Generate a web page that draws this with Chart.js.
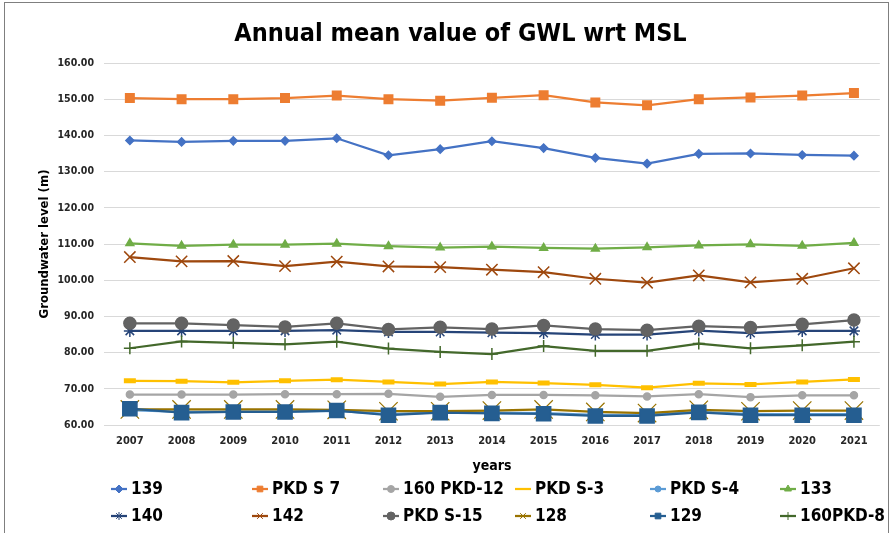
<!DOCTYPE html>
<html>
<head>
<meta charset="utf-8">
<script src="https://cdn.jsdelivr.net/npm/chart.js@4.4.1/dist/chart.umd.min.js"></script>
<style>
  body { margin: 0; background: #fff; }
  #wrap { width: 894px; height: 533px; position: relative; }
</style>
</head>
<body>
<div id="wrap"><canvas id="gwl"></canvas></div>
<script>
// values (m above MSL)
const years = ['2007','2008','2009','2010','2011','2012','2013','2014','2015','2016','2017','2018','2019','2020','2021'];
const yTicks = [60, 70, 80, 90, 100, 110, 120, 130, 140, 150, 160];

const w139     = [138.6,138.2,138.5,138.5,139.2,134.5,136.2,138.4,136.5,133.8,132.2,134.9,135.0,134.6,134.4];
const wPkdS7   = [150.3,150.0,150.0,150.3,151.0,150.0,149.6,150.4,151.1,149.1,148.3,150.0,150.5,151.0,151.7];
const w160Pkd12 = [68.4,68.4,68.4,68.5,68.5,68.6,67.8,68.3,68.3,68.2,67.9,68.5,67.7,68.2,68.2];
const wPkdS3   = [72.2,72.1,71.8,72.2,72.5,71.9,71.3,71.9,71.6,71.1,70.3,71.5,71.2,71.9,72.6];
const wPkdS4   = [64.1,63.6,63.7,63.7,63.9,63.0,63.5,63.4,63.3,62.8,62.9,63.6,63.0,63.0,63.0];
const w133     = [110.2,109.5,109.8,109.8,110.1,109.4,109.0,109.3,108.9,108.7,109.1,109.6,109.9,109.5,110.3];
const w140     = [86.0,86.0,86.0,86.0,86.2,85.7,85.7,85.5,85.4,85.0,85.0,86.1,85.4,86.0,86.0];
const w142     = [106.4,105.2,105.3,103.9,105.1,103.8,103.6,102.9,102.2,100.4,99.3,101.3,99.4,100.4,103.3];
const wPkdS15  = [88.1,88.1,87.6,87.1,88.1,86.4,87.0,86.5,87.5,86.5,86.2,87.3,86.9,87.8,89.0];
const w128     = [64.3,64.3,64.3,64.3,64.2,63.8,63.8,64.0,64.3,63.6,63.3,64.2,63.8,64.0,64.0];
const w129     = [64.5,63.4,63.6,63.6,64.0,62.7,63.4,63.2,63.1,62.5,62.5,63.5,62.7,62.7,62.7];
const w160Pkd8 = [81.2,83.1,82.7,82.3,83.0,81.1,80.2,79.6,81.8,80.5,80.5,82.5,81.2,82.0,83.0];

const FONT = '"DejaVu Sans Condensed", "DejaVu Sans", sans-serif';

function series(label, data, color, style, radius, extra) {
  return Object.assign({
    label: label,
    data: data,
    borderColor: color,
    backgroundColor: color,
    pointBackgroundColor: color,
    pointBorderColor: color,
    borderWidth: 2.25,
    pointStyle: style,
    pointRadius: radius,
    pointBorderWidth: 1.5,
    tension: 0
  }, extra || {});
}

const datasets = [
  series('139', w139, '#4472C4', 'rectRot', 4),
  series('PKD S 7', wPkdS7, '#ED7D31', 'rect', 6),
  series('160 PKD-12', w160Pkd12, '#A5A5A5', 'circle', 3.5),
  series('PKD S-3', wPkdS3, '#FFC000', 'line', 6, { pointBorderWidth: 5 }),
  series('PKD S-4', wPkdS4, '#5B9BD5', 'circle', 3),
  series('133', w133, '#70AD47', 'triangle', 4.5),
  series('140', w140, '#264478', 'star', 6),
  series('142', w142, '#9E480E', 'crossRot', 8),
  series('PKD S-15', wPkdS15, '#636363', 'circle', 6),
  series('128', w128, '#997300', 'crossRot', 13, { pointBorderWidth: 1.2 }),
  series('129', w129, '#255E91', 'rect', 10),
  series('160PKD-8', w160Pkd8, '#43682B', 'cross', 6, { pointBorderWidth: 1.5 })
];
// Excel paints later series on top
datasets.forEach((d, i) => { d.order = datasets.length - 1 - i; });

// legend laid out in fixed columns, two rows of six
const legendCols = [131, 272, 403, 535, 670, 800];
const gridLegend = {
  id: 'gridLegend',
  afterDraw(chart) {
    const ctx = chart.ctx;
    ctx.save();
    chart.data.datasets.forEach((ds, i) => {
      const tx = legendCols[i % 6];
      const y = 489 + Math.floor(i / 6) * 27;
      ctx.strokeStyle = ds.borderColor;
      ctx.fillStyle = ds.borderColor;
      ctx.lineWidth = 2.25;
      ctx.beginPath();
      ctx.moveTo(tx - 20, y);
      ctx.lineTo(tx - 4, y);
      ctx.stroke();
      ctx.lineWidth = 1;
      Chart.helpers.drawPoint(ctx, {
        pointStyle: ds.pointStyle,
        radius: Math.min(ds.pointRadius, 4),
        borderWidth: 1,
        rotation: 0
      }, tx - 12, y);
      ctx.fillStyle = '#000';
      ctx.font = 'bold 17px ' + FONT;
      ctx.textBaseline = 'middle';
      ctx.textAlign = 'left';
      ctx.fillText(ds.label, tx, y + 1);
    });
    // outer frame
    ctx.strokeStyle = '#7f7f7f';
    ctx.lineWidth = 1;
    ctx.strokeRect(4.5, 2.5, 884, 540);
    ctx.restore();
  }
};

new Chart(document.getElementById('gwl'), {
  type: 'line',
  data: { labels: years, datasets: datasets },
  plugins: [gridLegend],
  options: {
    responsive: true,
    maintainAspectRatio: false,
    animation: false,
    layout: { padding: { left: 37, right: 10, top: 15, bottom: 58 } },
    plugins: {
      legend: { display: false },
      tooltip: { enabled: false },
      title: {
        display: true,
        text: 'Annual mean value of GWL wrt MSL',
        color: '#000',
        font: { family: FONT, size: 25, weight: 'bold' },
        padding: { top: 4, bottom: 14 }
      }
    },
    scales: {
      x: {
        offset: true,
        grid: { display: false, drawTicks: false },
        border: { display: false },
        ticks: { color: '#262626', padding: 10, font: { family: FONT, size: 11, weight: 'bold' } },
        title: {
          display: true,
          text: 'years',
          color: '#000',
          padding: { top: 0, bottom: 0 },
          font: { family: FONT, size: 14, weight: 'bold' }
        }
      },
      y: {
        min: yTicks[0],
        max: yTicks[yTicks.length - 1],
        afterBuildTicks(scale) { scale.ticks = yTicks.map(v => ({ value: v })); },
        afterFit(scale) { scale.width = 67; },
        grid: { color: '#d9d9d9', lineWidth: 1, drawTicks: false },
        border: { display: false },
        ticks: {
          color: '#262626',
          padding: 10,
          font: { family: FONT, size: 10.5, weight: 'bold' },
          callback: v => Number(v).toFixed(2)
        },
        title: {
          display: true,
          text: 'Groundwater level (m)',
          color: '#000',
          padding: { top: 0, bottom: 4 },
          font: { family: FONT, size: 13, weight: 'bold' }
        }
      }
    }
  }
});
</script>
</body>
</html>
